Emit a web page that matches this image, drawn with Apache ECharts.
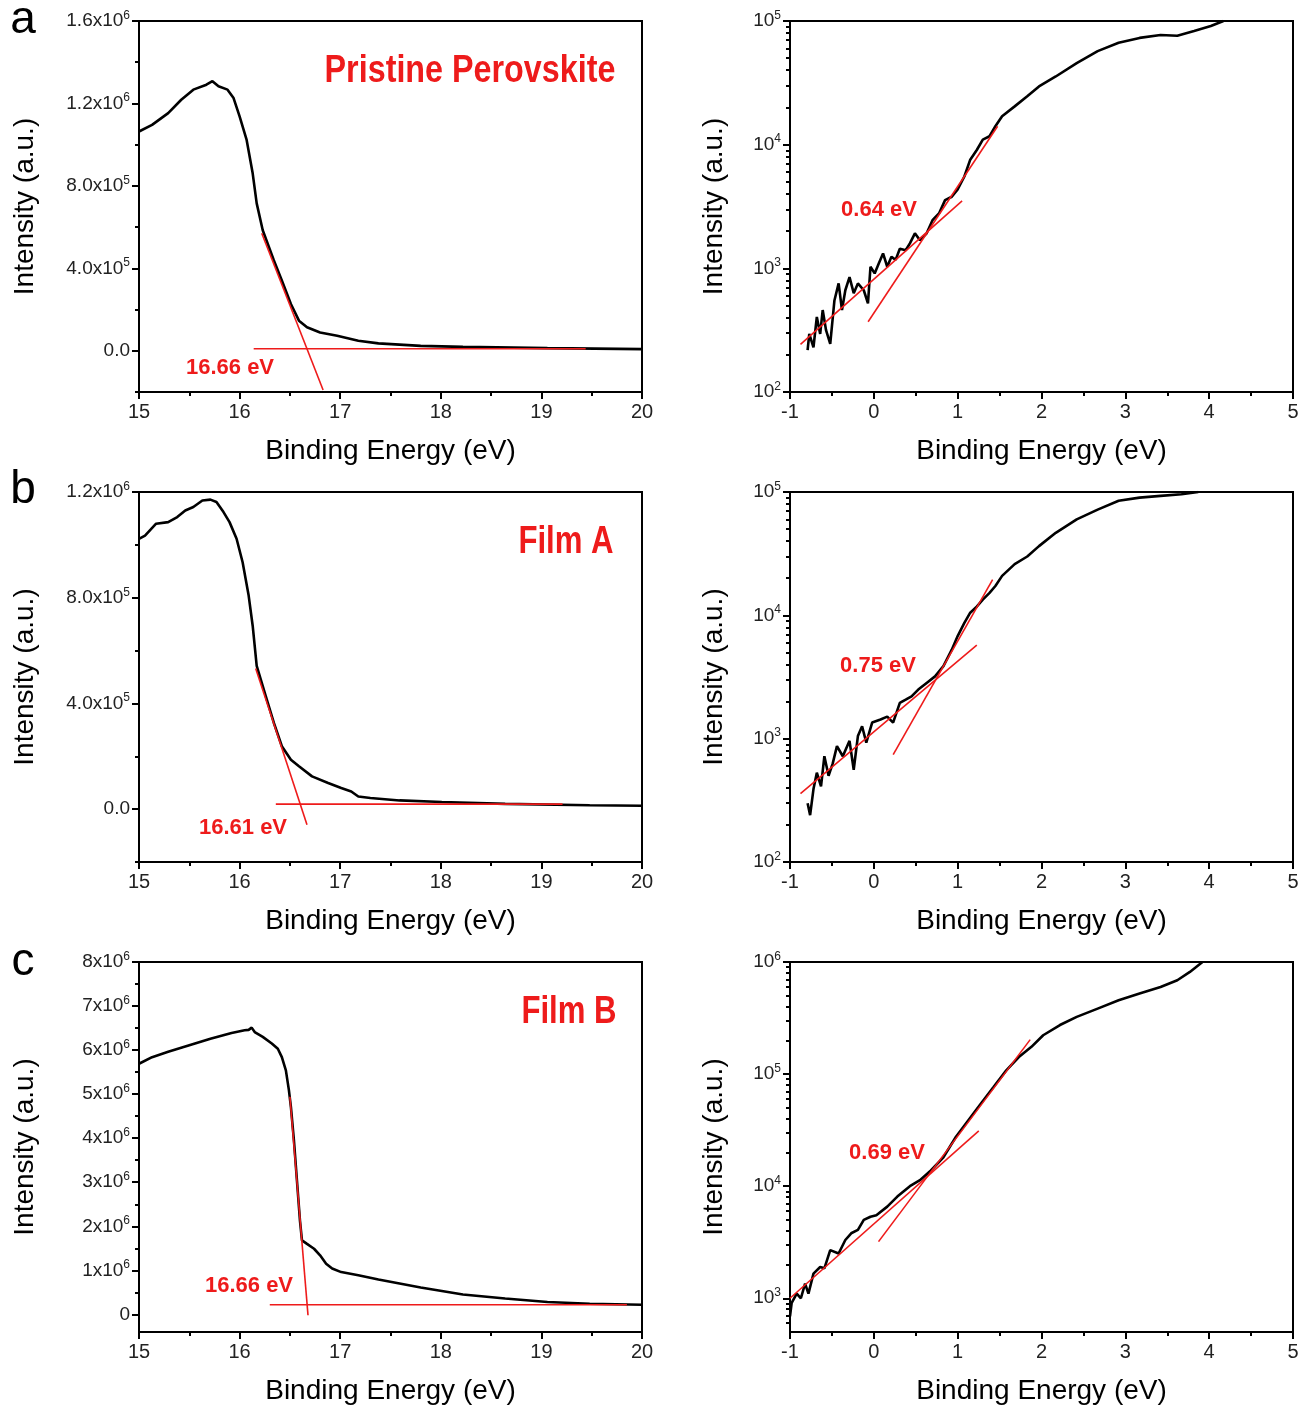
<!DOCTYPE html>
<html>
<head>
<meta charset="utf-8">
<script src="https://cdn.jsdelivr.net/npm/echarts@6.0.0/dist/echarts.min.js"></script>
<style>
html, body { margin: 0; padding: 0; background: #fff; }
#main { width: 1316px; height: 1409px; }
</style>
</head>
<body>
<div id="main"></div>
<script>
// UPS secondary electron cutoff (left) and valence band edge (right)
var FONT = '"Liberation Sans", Arial, sans-serif';
var RED = '#ee1b1b';

// ---- panel a : pristine perovskite ----
var aCutE = [15.0, 15.13, 15.29, 15.42, 15.54, 15.67, 15.73, 15.79, 15.88, 15.94, 16.0, 16.07, 16.13, 16.17, 16.23, 16.34, 16.42, 16.51, 16.59, 16.67, 16.80, 16.97, 17.18, 17.38, 17.80, 18.22, 19.06, 20.0];
var aCutI = [1.064e6, 1.096e6, 1.153e6, 1.218e6, 1.267e6, 1.291e6, 1.308e6, 1.283e6, 1.267e6, 1.226e6, 1.137e6, 1.023e6, 0.861e6, 0.715e6, 0.585e6, 0.439e6, 0.341e6, 0.227e6, 0.146e6, 0.114e6, 0.089e6, 0.073e6, 0.049e6, 0.036e6, 0.024e6, 0.019e6, 0.013e6, 0.008e6];
var aCutFit1E = [16.22, 16.83];
var aCutFit1I = [5.7e5, -1.9e5];
var aCutFit2E = [16.14, 19.44];
var aCutFit2I = [1.0e4, 1.0e4];

var aVbE = [-0.79, -0.77, -0.72, -0.68, -0.64, -0.61, -0.57, -0.52, -0.47, -0.42, -0.38, -0.34, -0.29, -0.24, -0.19, -0.12, -0.07, -0.04, 0.01, 0.06, 0.11, 0.16, 0.21, 0.26, 0.31, 0.38, 0.43, 0.49, 0.55, 0.63, 0.70, 0.78, 0.85, 0.93, 1.00, 1.08, 1.15, 1.23, 1.30, 1.38, 1.45, 1.53, 1.68, 1.83, 1.97, 2.17, 2.42, 2.67, 2.92, 3.17, 3.42, 3.62, 3.82, 4.02, 4.17];
var aVbI = [218, 295, 230, 405, 295, 460, 316, 245, 550, 755, 460, 665, 850, 630, 755, 665, 520, 1030, 910, 1100, 1320, 1030, 1240, 1170, 1440, 1400, 1590, 1920, 1690, 1920, 2450, 2800, 3560, 3790, 4340, 5530, 7560, 9100, 1.10e4, 1.17e4, 1.41e4, 1.70e4, 2.04e4, 2.46e4, 2.96e4, 3.56e4, 4.57e4, 5.71e4, 6.67e4, 7.3e4, 7.7e4, 7.6e4, 8.3e4, 9.1e4, 1.0e5];
var aVbFit1E = [-0.875, 1.053];
var aVbFit1I = [243, 3515];
var aVbFit2E = [-0.068, 1.476];
var aVbFit2I = [370, 1.41e4];

// ---- panel b : film A ----
var bCutE = [15.0, 15.06, 15.17, 15.29, 15.38, 15.46, 15.54, 15.63, 15.71, 15.77, 15.84, 15.90, 15.97, 16.03, 16.09, 16.13, 16.17, 16.26, 16.34, 16.42, 16.51, 16.59, 16.72, 16.88, 17.01, 17.11, 17.18, 17.30, 17.59, 18.01, 18.64, 19.48, 20.0];
var bCutI = [1.023e6, 1.035e6, 1.080e6, 1.086e6, 1.105e6, 1.130e6, 1.143e6, 1.168e6, 1.171e6, 1.162e6, 1.124e6, 1.086e6, 1.023e6, 0.934e6, 0.808e6, 0.694e6, 0.542e6, 0.428e6, 0.327e6, 0.238e6, 0.187e6, 0.162e6, 0.124e6, 0.099e6, 0.080e6, 0.067e6, 0.048e6, 0.042e6, 0.033e6, 0.027e6, 0.020e6, 0.015e6, 0.013e6];
var bCutFit1E = [16.16, 16.67];
var bCutFit1I = [5.32e5, -0.59e5];
var bCutFit2E = [16.36, 19.21];
var bCutFit2I = [1.9e4, 1.9e4];

var bVbE = [-0.79, -0.76, -0.72, -0.68, -0.63, -0.59, -0.54, -0.49, -0.44, -0.37, -0.29, -0.24, -0.19, -0.14, -0.09, -0.02, 0.08, 0.16, 0.23, 0.31, 0.38, 0.45, 0.53, 0.63, 0.73, 0.83, 0.93, 1.00, 1.08, 1.15, 1.23, 1.30, 1.38, 1.45, 1.53, 1.68, 1.83, 1.97, 2.17, 2.42, 2.67, 2.92, 3.17, 3.42, 3.67, 3.87];
var bVbI = [300, 240, 390, 530, 410, 720, 500, 630, 870, 720, 960, 560, 1050, 1260, 930, 1350, 1430, 1510, 1350, 1950, 2070, 2200, 2500, 2830, 3200, 3870, 5270, 6790, 8700, 1.05e4, 1.18e4, 1.34e4, 1.52e4, 1.73e4, 2.09e4, 2.6e4, 3.0e4, 3.64e4, 4.67e4, 6.0e4, 7.2e4, 8.5e4, 9.0e4, 9.3e4, 9.6e4, 1.0e5];
var bVbFit1E = [-0.875, 1.228];
var bVbFit1I = [359, 5730];
var bVbFit2E = [0.231, 1.417];
var bVbFit2I = [743, 1.95e4];

// ---- panel c : film B ----
var cCutE = [15.0, 15.13, 15.29, 15.50, 15.71, 15.92, 16.05, 16.09, 16.12, 16.15, 16.23, 16.32, 16.38, 16.42, 16.46, 16.49, 16.51, 16.54, 16.57, 16.60, 16.62, 16.67, 16.74, 16.80, 16.86, 16.92, 17.01, 17.18, 17.38, 17.59, 17.80, 18.01, 18.22, 18.64, 19.06, 19.48, 20.0];
var cCutI = [5.69e6, 5.84e6, 5.96e6, 6.11e6, 6.26e6, 6.39e6, 6.45e6, 6.46e6, 6.51e6, 6.41e6, 6.30e6, 6.15e6, 6.03e6, 5.84e6, 5.54e6, 5.09e6, 4.71e6, 3.95e6, 3.04e6, 2.13e6, 1.68e6, 1.60e6, 1.49e6, 1.34e6, 1.15e6, 1.04e6, 0.96e6, 0.89e6, 0.79e6, 0.70e6, 0.61e6, 0.53e6, 0.45e6, 0.36e6, 0.28e6, 0.24e6, 0.22e6];
var cCutFit1E = [16.50, 16.68];
var cCutFit1I = [4.94e6, -0.02e6];
var cCutFit2E = [16.30, 19.85];
var cCutFit2I = [0.22e6, 0.22e6];

var cVbE = [-1.0, -0.98, -0.92, -0.87, -0.82, -0.78, -0.72, -0.64, -0.59, -0.52, -0.42, -0.34, -0.27, -0.19, -0.12, -0.04, 0.03, 0.16, 0.28, 0.43, 0.55, 0.68, 0.83, 0.98, 1.13, 1.28, 1.43, 1.58, 1.73, 1.88, 2.02, 2.22, 2.42, 2.67, 2.92, 3.17, 3.42, 3.62, 3.77, 3.92];
var cVbI = [690, 910, 1100, 1000, 1350, 1100, 1660, 1900, 1850, 2690, 2510, 3310, 3800, 4070, 5000, 5340, 5510, 6570, 8070, 1.0e4, 1.13e4, 1.38e4, 1.81e4, 2.76e4, 3.9e4, 5.5e4, 7.7e4, 1.08e5, 1.42e5, 1.75e5, 2.22e5, 2.74e5, 3.24e5, 3.84e5, 4.55e5, 5.23e5, 5.99e5, 6.87e5, 8.15e5, 1.0e6];
var cVbFit1E = [-1.0, 1.252];
var cVbFit1I = [1000, 3.12e4];
var cVbFit2E = [0.056, 1.865];
var cVbFit2I = [3200, 2.03e5];

// tick labels
var aCutTicks = [0, 4e5, 8e5, 1.2e6, 1.6e6];
var bCutTicks = [0, 4e5, 8e5, 1.2e6];
var cCutTicks = [0, 1e6, 2e6, 3e6, 4e6, 5e6, 6e6, 7e6, 8e6];
var abVbTicks = [1e2, 1e3, 1e4, 1e5];
var cVbTicks = [1e3, 1e4, 1e5, 1e6];

var titles = ['Pristine Perovskite', 'Film A', 'Film B'];
var edgeLabels = ['16.66 eV', '16.61 eV', '16.66 eV'];
var vbLabels = ['0.64 eV', '0.75 eV', '0.69 eV'];

function zip(xs, ys) {
	var out = [];
	for (var i = 0; i < xs.length; i++) out.push([xs[i], ys[i]]);
	return out;
}

// "1.2x10^6" style label with superscript exponent
function sciLabel(v, dec) {
	if (v === 0) return '{b|' + (dec ? '0.0' : '0') + '}';
	var e = Math.floor(Math.log10(Math.abs(v)) + 1e-9);
	var m = v / Math.pow(10, e);
	return '{b|' + m.toFixed(dec) + 'x10}{s|' + e + '}';
}
function powLabel(v) {
	var e = Math.round(Math.log10(v));
	return '{b|10}{s|' + e + '}';
}
// minor tick positions between major ones
function linMinor(ticks, lo) {
	var out = [];
	var step = ticks[1] - ticks[0];
	for (var v = ticks[0] - step / 2; v < ticks[ticks.length - 1]; v += step) {
		if (v >= lo) out.push(v);
	}
	return out;
}
function logMinor(lo, hi) {
	var out = [];
	for (var e = 1; e < 7; e++) {
		for (var k = 2; k < 10; k++) {
			var v = k * Math.pow(10, e);
			if (v > lo && v < hi) out.push(v);
		}
	}
	return out;
}

var rich = {
	b: { fontFamily: FONT, fontSize: 19, color: '#222', lineHeight: 23 },
	s: { fontFamily: FONT, fontSize: 12, color: '#222', lineHeight: 12, verticalAlign: 'top' }
};

var rows = [21, 492, 962];
var rowH = [371, 370, 370];
var cols = [139, 790];
var colW = 503;

var panels = [
	{ row: 0, col: 0, xmin: 15, xmax: 20, ylog: false, ymin: -2e5, ymax: 1.6e6, ticks: aCutTicks, dec: 1,
		curve: zip(aCutE, aCutI), fits: [zip(aCutFit1E, aCutFit1I), zip(aCutFit2E, aCutFit2I)] },
	{ row: 0, col: 1, xmin: -1, xmax: 5, ylog: true, ymin: 1e2, ymax: 1e5, ticks: abVbTicks,
		curve: zip(aVbE, aVbI), fits: [zip(aVbFit1E, aVbFit1I), zip(aVbFit2E, aVbFit2I)] },
	{ row: 1, col: 0, xmin: 15, xmax: 20, ylog: false, ymin: -2e5, ymax: 1.2e6, ticks: bCutTicks, dec: 1,
		curve: zip(bCutE, bCutI), fits: [zip(bCutFit1E, bCutFit1I), zip(bCutFit2E, bCutFit2I)] },
	{ row: 1, col: 1, xmin: -1, xmax: 5, ylog: true, ymin: 1e2, ymax: 1e5, ticks: abVbTicks,
		curve: zip(bVbE, bVbI), fits: [zip(bVbFit1E, bVbFit1I), zip(bVbFit2E, bVbFit2I)] },
	{ row: 2, col: 0, xmin: 15, xmax: 20, ylog: false, ymin: -4e5, ymax: 8e6, ticks: cCutTicks, dec: 0,
		curve: zip(cCutE, cCutI), fits: [zip(cCutFit1E, cCutFit1I), zip(cCutFit2E, cCutFit2I)] },
	{ row: 2, col: 1, xmin: -1, xmax: 5, ylog: true, ymin: 500, ymax: 1e6, ticks: cVbTicks,
		curve: zip(cVbE, cVbI), fits: [zip(cVbFit1E, cVbFit1I), zip(cVbFit2E, cVbFit2I)] }
];

var tickLine = { color: '#000', width: 2 };
var grid = [], xAxis = [], yAxis = [], series = [];

panels.forEach(function (p, i) {
	grid.push({
		left: cols[p.col], top: rows[p.row], width: colW, height: rowH[p.row],
		show: true, borderColor: '#000', borderWidth: 2, backgroundColor: 'transparent'
	});
	xAxis.push({
		gridIndex: i, type: 'value', min: p.xmin, max: p.xmax, interval: 1,
		axisLine: { onZero: false, lineStyle: tickLine },
		axisTick: { length: 7, lineStyle: tickLine },
		minorTick: { show: true, splitNumber: 2, length: 4, lineStyle: tickLine },
		splitLine: { show: false },
		axisLabel: { fontFamily: FONT, fontSize: 20, color: '#222', margin: 10, showMinLabel: true, showMaxLabel: true },
		name: 'Binding Energy (eV)', nameLocation: 'middle', nameGap: 45,
		nameTextStyle: { fontFamily: FONT, fontSize: 28, color: '#000' }
	});
	var minors = p.ylog ? logMinor(p.ymin, p.ymax) : linMinor(p.ticks, p.ymin);
	var fmt = p.ylog ? powLabel : (function (d) { return function (v) { return sciLabel(v, d); }; })(p.dec);
	yAxis.push({
		gridIndex: i, type: p.ylog ? 'log' : 'value', logBase: 10, min: p.ymin, max: p.ymax, position: 'left',
		axisLine: { onZero: false, lineStyle: tickLine },
		axisTick: { length: 7, lineStyle: tickLine, customValues: p.ticks },
		axisLabel: { customValues: p.ticks, formatter: fmt, rich: rich, margin: 9 },
		splitLine: { show: false },
		name: 'Intensity (a.u.)', nameLocation: 'middle', nameRotate: 90, nameGap: p.col === 0 ? 100 : 62,
		nameTextStyle: { fontFamily: FONT, fontSize: 28, color: '#000' }
	});
	yAxis.push({
		gridIndex: i, type: p.ylog ? 'log' : 'value', logBase: 10, min: p.ymin, max: p.ymax, position: 'left',
		axisLine: { show: false, onZero: false },
		axisTick: { length: 4, lineStyle: tickLine, customValues: minors },
		axisLabel: { show: false },
		splitLine: { show: false }
	});
	series.push({
		type: 'line', xAxisIndex: i, yAxisIndex: 2 * i, data: p.curve,
		symbol: 'none', lineStyle: { color: '#000', width: 2.6 }, z: 2
	});
	p.fits.forEach(function (f) {
		series.push({
			type: 'line', xAxisIndex: i, yAxisIndex: 2 * i, data: f,
			symbol: 'none', lineStyle: { color: RED, width: 1.6 }, z: 3
		});
	});
});

function txt(text, x, y, font, color, sx) {
	return {
		type: 'text', x: x, y: y, z: 10, scaleX: sx || 1,
		style: { text: text, font: font, fill: color, align: 'center', verticalAlign: 'middle', textAlign: 'center', textVerticalAlign: 'middle' }
	};
}

// titles use a horizontally squeezed bold face to mimic the narrow font
var graphic = [
	txt('a', 23, 20, '46px ' + FONT, '#000'),
	txt('b', 23, 490, '46px ' + FONT, '#000'),
	txt('c', 23, 962, '46px ' + FONT, '#000'),
	txt(titles[0], 470, 72, 'bold 38px ' + FONT, RED, 0.85),
	txt(titles[1], 566, 543, 'bold 38px ' + FONT, RED, 0.82),
	txt(titles[2], 569, 1013, 'bold 38px ' + FONT, RED, 0.82),
	txt(edgeLabels[0], 230, 368, 'bold 22px ' + FONT, RED),
	txt(edgeLabels[1], 243, 828, 'bold 22px ' + FONT, RED),
	txt(edgeLabels[2], 249, 1286, 'bold 22px ' + FONT, RED),
	txt(vbLabels[0], 879, 210, 'bold 22px ' + FONT, RED),
	txt(vbLabels[1], 878, 666, 'bold 22px ' + FONT, RED),
	txt(vbLabels[2], 887, 1153, 'bold 22px ' + FONT, RED)
];

var chart = echarts.init(document.getElementById('main'), null, { renderer: 'canvas' });
chart.setOption({
	backgroundColor: '#fff',
	animation: false,
	grid: grid,
	xAxis: xAxis,
	yAxis: yAxis,
	series: series,
	graphic: graphic
});
</script>
</body>
</html>
